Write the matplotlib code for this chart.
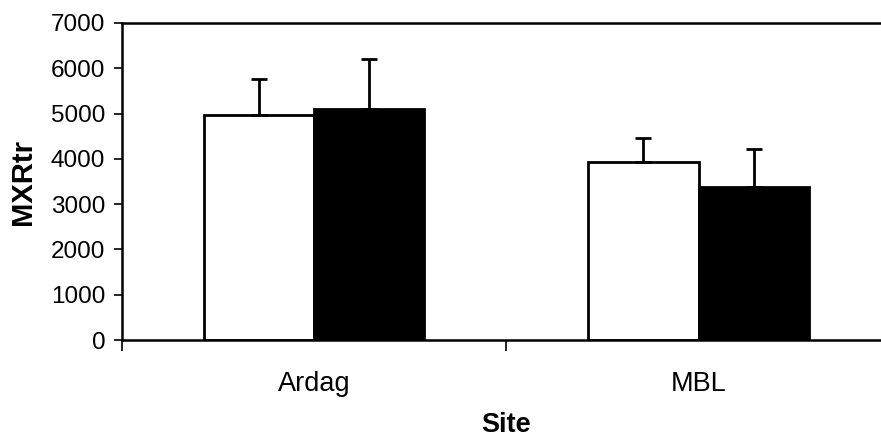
#!/usr/bin/env python3

import numpy as np
import matplotlib
matplotlib.use('Agg')
import matplotlib.pyplot as plt

sites = ['Ardag', 'MBL']
open_vals = [4970, 3935]
open_err = [790, 530]
filled_vals = [5105, 3370]
filled_err = [1105, 840]

plt.rcParams['font.family'] = ['Liberation Sans', 'DejaVu Sans']

fig = plt.figure(figsize=(8.81, 4.38), dpi=100)
ax = fig.add_axes([0.1385, 0.2237, 0.8725, 0.7238])

x = np.arange(len(sites)) + 0.5
w = 0.287
err_style = dict(ecolor='black', elinewidth=2, capsize=5.5, capthick=2)

ax.bar(x - w / 2, open_vals, w, color='white', edgecolor='black', linewidth=2,
       yerr=[np.zeros(len(sites)), open_err], error_kw=err_style)
ax.bar(x + w / 2, filled_vals, w, color='black', edgecolor='black', linewidth=2,
       yerr=[np.zeros(len(sites)), filled_err], error_kw=err_style)

ax.set_xlim(0, 2)
ax.set_ylim(0, 7000)
ax.set_yticks(range(0, 7001, 1000))
ax.set_xticks([0, 1, 2])
ax.set_xticklabels([])
ax.set_xticks(x, minor=True)
ax.set_xticklabels(sites, minor=True)
ax.tick_params(axis='x', which='major', length=8, width=1.2, direction='out')
ax.tick_params(axis='x', which='minor', length=0, pad=22, labelsize=19.5)
ax.tick_params(axis='y', length=6, width=1.2, direction='out', labelsize=17.5, pad=6)

for s in ['left', 'bottom', 'top']:
    ax.spines[s].set_linewidth(1.8)
ax.spines['right'].set_visible(False)

ax.set_ylabel('MXRtr', fontsize=21, fontweight='bold', labelpad=10)
ax.set_xlabel('Site', fontsize=19.5, fontweight='bold', labelpad=11)

fig.savefig('out.png', dpi=100)
